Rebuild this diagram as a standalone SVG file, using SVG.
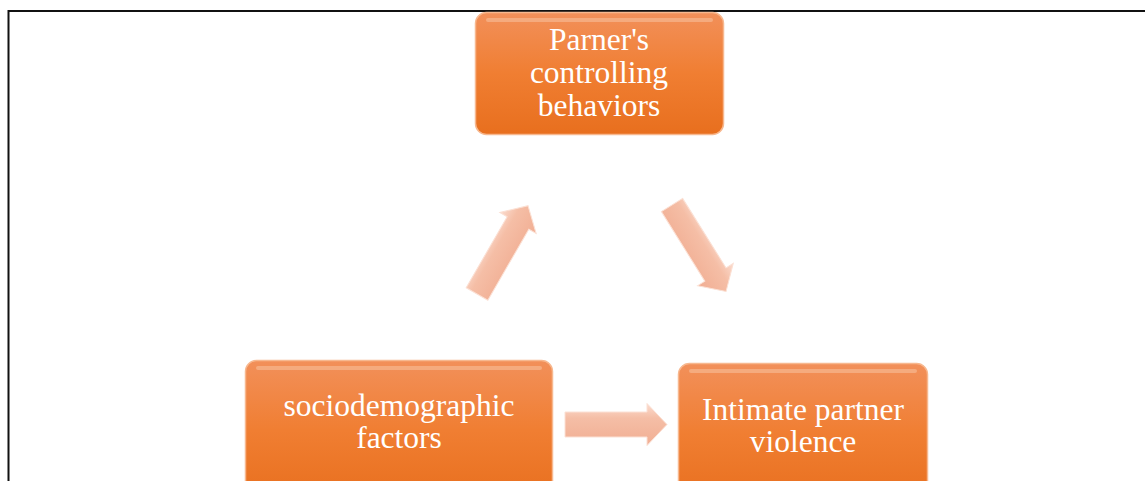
<svg xmlns="http://www.w3.org/2000/svg" width="1145" height="481" viewBox="0 0 1145 481">
  <defs>
    <linearGradient id="nodeFill" x1="0" y1="0" x2="0" y2="1">
      <stop offset="0" stop-color="#f2905a"/>
      <stop offset="0.5" stop-color="#f07e32"/>
      <stop offset="1" stop-color="#e86f1e"/>
    </linearGradient>
    <linearGradient id="arrowFill" x1="0" y1="0" x2="0" y2="1">
      <stop offset="0" stop-color="#fbdccf"/>
      <stop offset="0.35" stop-color="#f5bea6"/>
      <stop offset="1" stop-color="#f1ae93"/>
    </linearGradient>
    <path id="arrowShape" d="M0,-12.5 H82 V-21 L102,0 L82,21 V12.5 H0 Z"/>
  </defs>
  <style>
    .node rect.body { fill: url(#nodeFill); stroke: #f7b88f; stroke-width: 1.5; }
    .node path.gloss { fill: none; stroke: #f8c3a0; stroke-width: 4; stroke-linecap: round; opacity: 0.55; }
    .node text { font-family: "Liberation Serif", "Times New Roman", serif; font-size: 31.5px; fill: #ffffff; text-anchor: middle; }
    .conn use { fill: url(#arrowFill); stroke: #fbe0d4; stroke-width: 1; }
    .frame { fill: none; stroke: #111111; stroke-width: 2; }
  </style>

  <path class="frame" d="M8.5,481 V11 H1145"/>

  <g id="node-controlling" class="node">
    <rect class="body" x="475.5" y="12.5" width="248" height="122" rx="11"/>
    <path class="gloss" d="M488,20 H711"/>
    <text x="599" y="50">Parner's</text>
    <text x="599" y="83">controlling</text>
    <text x="599" y="116">behaviors</text>
  </g>

  <g id="node-sociodemographic" class="node">
    <rect class="body" x="245.5" y="360.5" width="307" height="140" rx="11"/>
    <path class="gloss" d="M258,368 H540"/>
    <text x="399" y="416">sociodemographic</text>
    <text x="399" y="448">factors</text>
  </g>

  <g id="node-ipv" class="node">
    <rect class="body" x="678.5" y="363.5" width="249" height="140" rx="11"/>
    <path class="gloss" d="M691,371 H915"/>
    <text x="803" y="420">Intimate partner</text>
    <text x="803" y="452">violence</text>
  </g>

  <g id="connectors" class="conn">
    <use href="#arrowShape" transform="translate(477,294) rotate(-60)"/>
    <use href="#arrowShape" transform="translate(672,205) rotate(58)"/>
    <use href="#arrowShape" transform="translate(565,424.5)"/>
  </g>
</svg>
